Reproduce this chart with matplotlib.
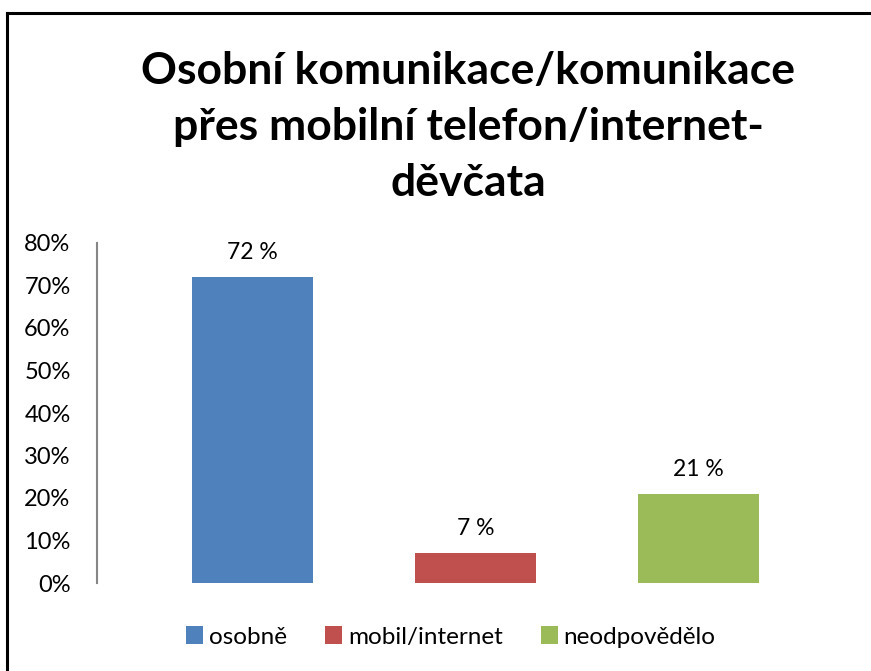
import numpy as np
import matplotlib.pyplot as plt
from matplotlib.lines import Line2D
from matplotlib.patches import Patch

# data
categories = ['osobně', 'mobil/internet', 'neodpovědělo']
values = [0.72, 0.07, 0.21]
labels = ['72 %', '7 %', '21 %']
colors = ['#4F81BD', '#C0504D', '#9BBB59']
yticks = [0, 0.1, 0.2, 0.3, 0.4, 0.5, 0.6, 0.7, 0.8]

plt.rcParams['font.family'] = ['Lato', 'DejaVu Sans']

W, H = 871, 671
fig = plt.figure(figsize=(W / 100, H / 100), dpi=100)

# outer frame (top and left only visible)
fig.add_artist(Line2D([7 / W, 7 / W], [0, 1 - 13 / H], color='black', lw=2.2))
fig.add_artist(Line2D([7 / W, 1], [1 - 13 / H, 1 - 13 / H], color='black', lw=2.2))

ax = fig.add_axes([97 / W, 88 / H, (854 - 97) / W, (583 - 243) / H])
x = np.arange(len(categories))
ax.bar(x, values, width=0.54, color=colors)
for xi, v, lab in zip(x, values, labels):
    ax.text(xi, v + 0.033, lab, ha='center', va='bottom', fontsize=16.5)

ax.set_xlim(-0.697, 2.697)
ax.set_ylim(0, 0.8)
ax.set_yticks(yticks)
ax.set_yticklabels([f'{int(round(t * 100))}%' for t in yticks], fontsize=17)
ax.set_xticks([])
ax.tick_params(axis='y', length=0, pad=19)
for s in ['top', 'right', 'bottom']:
    ax.spines[s].set_visible(False)
ax.spines['left'].set_color('#868686')
ax.spines['left'].set_linewidth(1.5)

fig.text(468 / W, 1 - 127 / H,
         'Osobní komunikace/komunikace\npřes mobilní telefon/internet-\nděvčata',
         ha='center', va='center', fontsize=32, fontweight='bold', linespacing=1.5)

handles = [Patch(facecolor=c) for c in colors]
fig.legend(handles, categories, loc='center', bbox_to_anchor=(451 / W, 1 - 637 / H),
           ncol=3, frameon=False, fontsize=17.5, handlelength=0.7, handleheight=0.7,
           handletextpad=0.25, columnspacing=1.55)

fig.savefig('out.png', dpi=100)
